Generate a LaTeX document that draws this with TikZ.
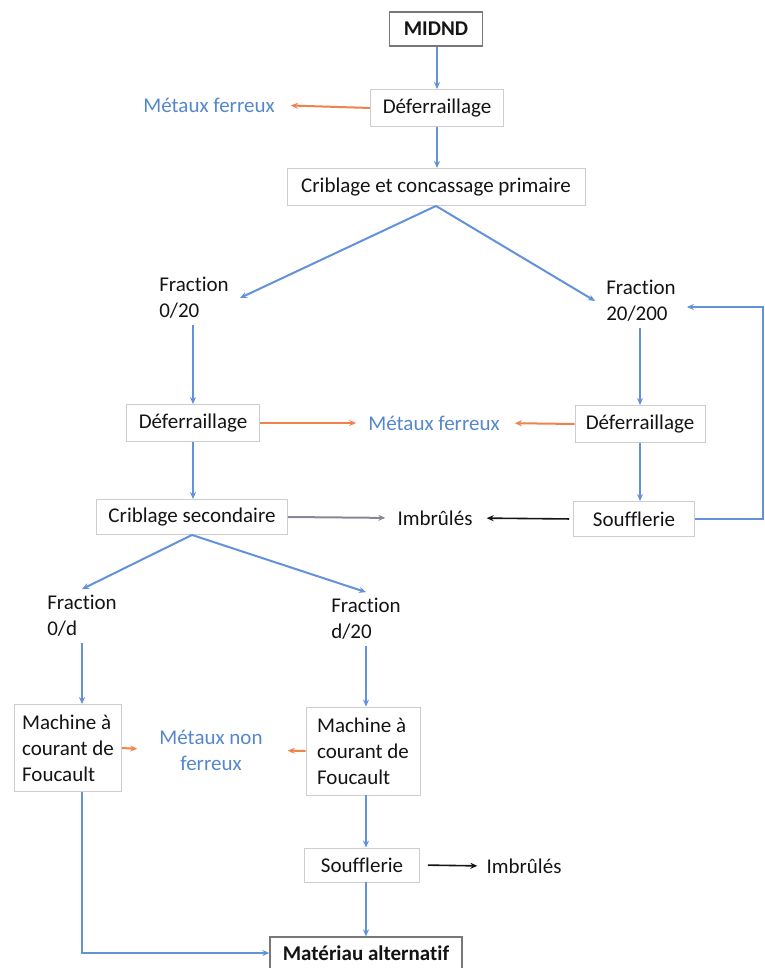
\documentclass[tikz,border=0pt]{standalone}
\usepackage{fontspec}
\setmainfont{Carlito}[Ligatures=CommonOff]
\usetikzlibrary{arrows.meta,calc}
\definecolor{flow}{RGB}{98,146,218}
\definecolor{sepc}{RGB}{240,130,75}
\definecolor{txtblue}{RGB}{85,135,205}
\definecolor{boxline}{RGB}{205,205,205}
\definecolor{strongline}{RGB}{120,120,120}
\definecolor{grayarr}{RGB}{135,135,150}
\definecolor{ink}{RGB}{20,20,20}
\begin{document}
\begin{tikzpicture}[x=1pt,y=-1pt,
  font=\fontsize{21}{26}\selectfont, text=ink,
  box/.style={draw=boxline, line width=0.9pt, inner sep=0pt},
  strongbox/.style={draw=strongline, line width=1.3pt, inner sep=0pt, font=\fontsize{21}{26}\selectfont\bfseries},
  lab/.style={align=left, inner sep=0pt},
  frac/.style={align=left, inner xsep=11pt, inner ysep=6pt},
  bluetxt/.style={text=txtblue, inner sep=0pt, align=center},
  tipc/.style={-{Stealth[length=7pt,width=6pt]}},
  fl/.style={draw=flow, line width=2pt, tipc},
  so/.style={draw=sepc, line width=2pt, tipc},
  bk/.style={draw=ink, line width=1.6pt, tipc},
  gr/.style={draw=grayarr, line width=2pt, tipc}]
\useasboundingbox (0,0) rectangle (764,968);
% nodes
\node[strongbox, minimum width=93, minimum height=34] (midnd) at (436,29) {MIDND};
\node[box, minimum width=133, minimum height=37] (def1) at (437,108) {Déferraillage};
\node[bluetxt] (mf1) at (209,105) {Métaux ferreux};
\node[box, minimum width=298, minimum height=37] (crib1) at (436,187) {Criblage et concassage primaire};
\node[frac] (f1) at (194,298) {Fraction\\0/20};
\node[frac] (f2) at (641,301) {Fraction\\20/200};
\node[box, minimum width=133, minimum height=37] (def2) at (193,423) {Déferraillage};
\node[bluetxt] (mf2) at (434,423) {Métaux ferreux};
\node[box, minimum width=130, minimum height=37] (def3) at (640,424) {Déferraillage};
\node[box, minimum width=121, minimum height=35] (souf1) at (634,519) {Soufflerie};
\node[lab] (imb1) at (435,518) {Imbrûlés};
\node[box, minimum width=191, minimum height=35] (crib2) at (192,517) {Criblage secondaire};
\node[frac] (f3) at (82,616) {Fraction\\0/d};
\node[frac] (f4) at (366,619) {Fraction\\d/20};
\node[box, minimum width=107, minimum height=87, align=left] (mach1) at (68,748) {Machine à\\courant de\\Foucault};
\node[bluetxt] (mnf) at (211,750) {Métaux non\\ferreux};
\node[box, minimum width=114, minimum height=88, align=left] (mach2) at (363,751) {Machine à\\courant de\\Foucault};
\node[box, minimum width=115, minimum height=34] (souf2) at (362,865) {Soufflerie};
\node[lab] (imb2) at (524,866) {Imbrûlés};
\node[strongbox, minimum width=192, minimum height=32] (mat) at (366,953) {Matériau alternatif};
\coordinate (c2) at (366,0);
\coordinate (lp) at (763,0);
% connectors
\draw[fl] (midnd.south -| def1.north) -- (def1.north);
\draw[so, shorten >=16pt] (def1.west) -- (mf1.east);
\draw[fl] (def1.south) -- (def1.south |- crib1.north);
\draw[fl] (crib1.south) -- (f1.east);
\draw[fl] (crib1.south) -- (f2.west);
\draw[fl] (f1.south -| def2.north) -- (def2.north);
\draw[so, shorten >=12pt] (def2.east) -- (mf2.west);
\draw[so, shorten >=15pt] (def3.west) -- (mf2.east);
\draw[fl] (f2.south -| def3.north) -- (def3.north);
\draw[fl] (def3.south) -- (def3.south |- souf1.north);
\draw[bk, shorten <=4pt, shorten >=14pt] (souf1.west) -- (imb1.east);
\draw[gr, shorten >=12pt] (crib2.east) -- (imb1.west);
\draw[fl] (def2.south) -- (def2.south |- crib2.north);
\draw[fl] (souf1.east) -- (souf1.east -| lp) -- ($(f2.east -| lp)+(0,6)$) -- ($(f2.east)+(0,6)$);
\draw[fl] (crib2.south) -- (f3.north);
\draw[fl] (crib2.south) -- (f4.north);
\draw[fl] (f3.south) -- (f3.south |- mach1.north);
\draw[fl] (f4.south) -- (f4.south |- mach2.north);
\draw[so, shorten >=22pt] (mach1.east) -- (mnf.west);
\draw[so, shorten >=25pt] (mach2.west) -- (mnf.east);
\draw[fl] (mach2.south -| c2) -- (souf2.north -| c2);
\draw[bk, shorten <=8pt, shorten >=9pt] (souf2.east) -- (imb2.west);
\draw[fl] (souf2.south -| c2) -- (mat.north -| c2);
\draw[fl] (mach1.south -| f3.south) |- (mat.west);
\end{tikzpicture}
\end{document}
